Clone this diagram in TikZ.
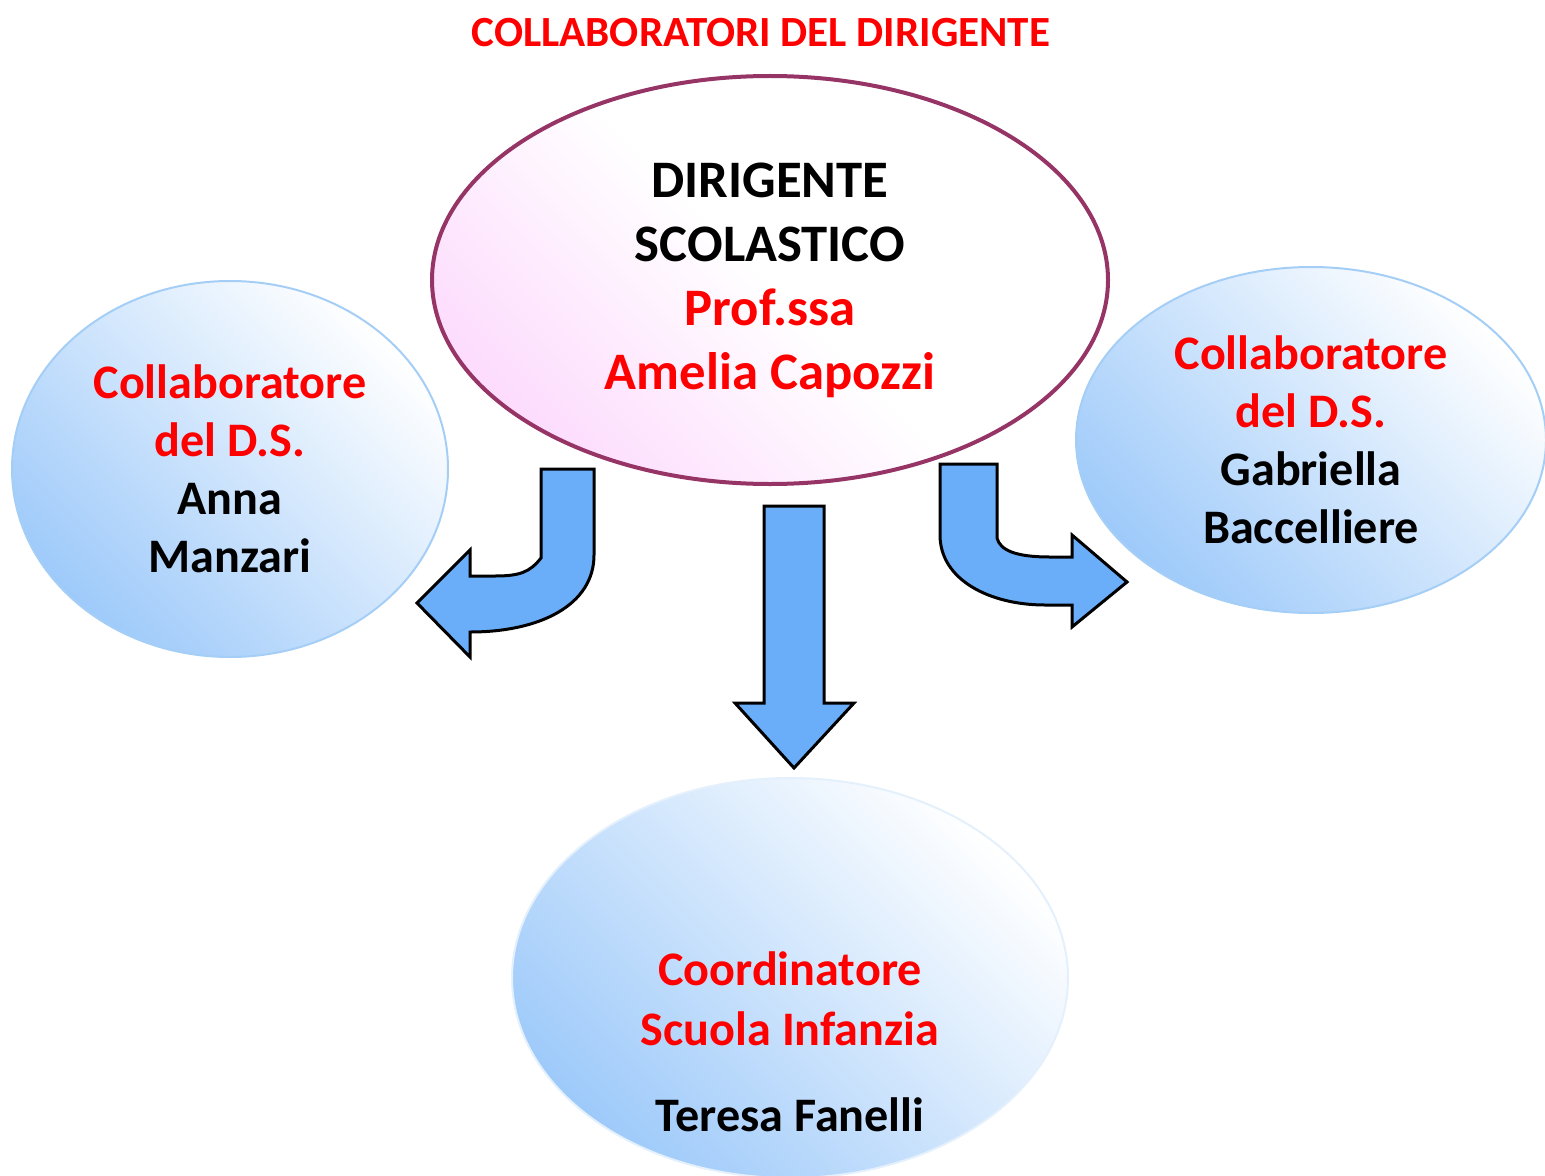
\documentclass[tikz,border=0pt]{standalone}
\usepackage{fontspec}
\setmainfont{Carlito}
\usetikzlibrary{shapes.geometric}
\definecolor{ellborder}{RGB}{150,52,102}
\definecolor{bubbleblue}{RGB}{158,202,250}
\definecolor{bubbleline}{RGB}{165,206,246}
\definecolor{bubblepink}{RGB}{253,220,253}
\definecolor{arrowblue}{RGB}{106,174,250}
\tikzset{
	bubble/.style={ellipse, inner sep=0pt, align=center, font=\bfseries\fontsize{13.7}{16.5}\selectfont},
	bluebubble/.style={bubble, draw=bubbleline, line width=0.2mm, top color=white, bottom color=bubbleblue, shading angle=-45},
	blockarrow/.style={draw=black, fill=arrowblue, line width=0.3mm, line join=miter},
}

\begin{document}
\begin{tikzpicture}
			%%%%% START %%%%%
			
			\useasboundingbox (0, 0) rectangle (15.45, -11.75);
			
			\node[text=red, font=\bfseries\fontsize{12.25}{14}\selectfont] (title) at (7.61, -0.33) {COLLABORATORI DEL DIRIGENTE};
			
			\node[bubble, draw=ellborder, line width=0.4mm, top color=white, bottom color=bubblepink, middle color=white, shading angle=-45, minimum width=6.76cm, minimum height=4.08cm, font=\bfseries\fontsize{15}{18.2}\selectfont] (dirigente) at (7.70, -2.80) {DIRIGENTE\\SCOLASTICO\\\textcolor{red}{Prof.ssa}\\\textcolor{red}{Amelia Capozzi}};
			
			\node[bluebubble, minimum width=4.36cm, minimum height=3.76cm] (collabA) at (2.30, -4.69) {\textcolor{red}{Collaboratore}\\\textcolor{red}{del D.S.}\\Anna\\Manzari};
			\node[bluebubble, minimum width=4.70cm, minimum height=3.46cm] (collabB) at (13.11, -4.40) {\textcolor{red}{Collaboratore}\\\textcolor{red}{del D.S.}\\Gabriella\\Baccelliere};
			
			\node[bluebubble, draw=bubbleline!30, minimum width=5.56cm, minimum height=4.00cm] (infanzia) at (7.90, -9.78) {};
			\node[bubble, ellipse=false, font=\bfseries\fontsize{13.7}{17}\selectfont] (infanziaTxt) at (7.90, -10.42) {\textcolor{red}{Coordinatore}\\\textcolor{red}{Scuola Infanzia}\\[0.27cm]Teresa Fanelli};
			
			% left bent arrow
			\draw[blockarrow] (5.41, -4.69) -- (5.94, -4.69) -- (5.94, -5.55) .. controls (5.94, -6.05) and (5.40, -6.32) .. (4.70, -6.32) -- (4.70, -6.57) -- (4.17, -6.03) -- (4.70, -5.50) -- (4.70, -5.76) -- (4.95, -5.76) .. controls (5.20, -5.76) and (5.30, -5.72) .. (5.41, -5.58) -- cycle;
			
			% down arrow
			\draw[blockarrow] (7.64, -5.06) -- (8.24, -5.06) -- (8.24, -7.03) -- (8.54, -7.03) -- (7.94, -7.68) -- (7.35, -7.03) -- (7.64, -7.03) -- cycle;
			
			% right bent arrow
			\draw[blockarrow] (9.40, -4.64) -- (9.97, -4.64) -- (9.97, -5.38) .. controls (10.00, -5.50) and (10.15, -5.57) .. (10.50, -5.57) -- (10.72, -5.57) -- (10.72, -5.35) -- (11.27, -5.82) -- (10.72, -6.27) -- (10.72, -6.05) -- (10.45, -6.05) .. controls (9.90, -6.05) and (9.40, -5.80) .. (9.40, -5.35) -- cycle;
			
			%%%%% END %%%%%
\end{tikzpicture}
\end{document}
